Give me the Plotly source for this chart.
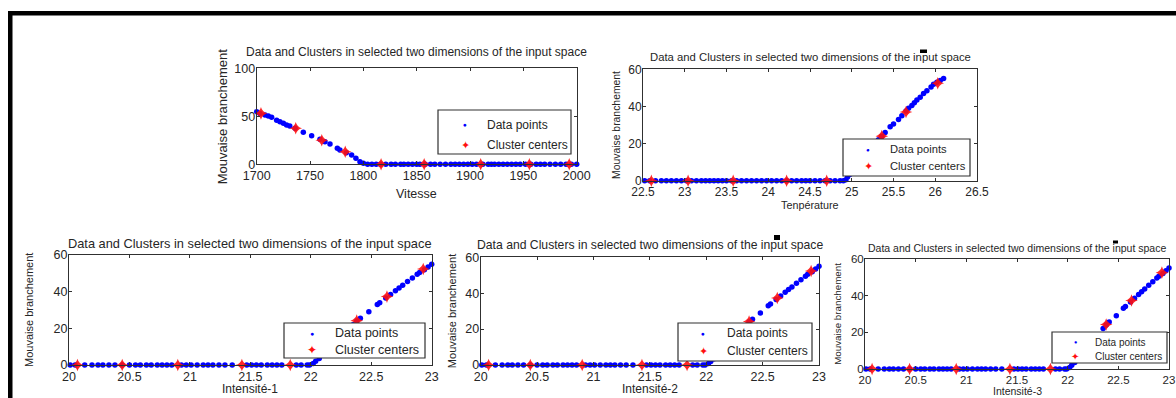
import plotly.graph_objects as go

# ---------------- data ----------------
# Subplot 1 : Vitesse vs Mouvaise branchement
vitesse = [1700, 1703, 1707.8, 1710.9, 1714, 1718.7, 1721.8, 1725, 1728, 1731, 1736,
           1743.7, 1751.5, 1759.3, 1764, 1768.7, 1775.6, 1778, 1784, 1789, 1793, 1796.8, 1800,
           1804, 1808, 1812, 1816, 1821, 1826, 1830, 1835, 1838, 1842, 1846, 1850, 1853,
           1858, 1863, 1867, 1872, 1877, 1882, 1886, 1890, 1894, 1898, 1902, 1906, 1912,
           1917, 1920, 1923, 1927, 1931, 1935, 1939, 1943, 1947, 1952, 1957, 1962, 1966,
           1970, 1975, 1980, 1985, 1990, 1995, 2000]
mb_vitesse = [54.8, 53, 51.3, 50.3, 49, 46, 44.4, 42.7, 41, 39.9, 37.5,
              33.3, 29.8, 26, 23.5, 21.1, 16.6, 14.9, 12.1, 9.7, 6.2, 2.7, 1] + [0] * 46
vitesse_centers = [1704, 1736.6, 1761, 1783, 1816.6, 1857, 1910, 1955.6, 1993]
mb_vitesse_centers = [53, 37.5, 25, 13, 0, 0, 0, 0, 0]

# Subplot 2 : Température vs Mouvaise branchement
temperature = [22.52, 22.58, 22.65, 22.72, 22.78, 22.84, 22.9, 22.96, 23.02, 23.08, 23.14,
               23.2, 23.25, 23.3, 23.35, 23.4, 23.45, 23.5, 23.56, 23.62, 23.68, 23.74,
               23.8, 23.86, 23.92, 23.98, 24.04, 24.1, 24.16, 24.22, 24.28, 24.34, 24.4,
               24.45, 24.5, 24.56, 24.62, 24.68, 24.74, 24.8, 24.86, 24.9,
               24.93, 24.95, 24.98, 25.06, 25.12, 25.18, 25.24,
               25.32, 25.36, 25.4, 25.46, 25.5, 25.56, 25.6, 25.65, 25.68, 25.72, 25.75,
               25.78, 25.82, 25.86, 25.9, 25.95, 25.98, 26.02, 26.06, 26.1]
mb_temperature = [0] * 42 + [0.5, 2, 3.5, 7, 10, 12.5, 15.5,
                             22, 24, 26, 29, 30.5, 33, 35, 37.5, 39, 40.5, 42,
                             43.5, 45, 47, 48.5, 50.5, 52, 53, 54, 55]
temperature_centers = [22.6, 23.04, 23.58, 24.22, 24.7, 25.36, 25.65, 26.03]
mb_temperature_centers = [0, 0, 0, 0, 0, 24, 37, 52.5]

# Subplots 3-5 : Intensité-1/2/3 vs Mouvaise branchement
intensite = [20.01, 20.05, 20.13, 20.19, 20.24, 20.28, 20.33, 20.38, 20.44, 20.5, 20.55,
             20.59, 20.64, 20.68, 20.73, 20.77, 20.81, 20.85, 20.93, 20.97, 21.01, 21.06,
             21.11, 21.15, 21.19, 21.24, 21.29, 21.35, 21.47, 21.51, 21.55, 21.59, 21.64,
             21.68, 21.72, 21.76, 21.88, 21.92, 21.97, 21.99,
             22.02, 22.04, 22.07, 22.12, 22.18, 22.24, 22.3,
             22.35, 22.38, 22.41, 22.48, 22.55, 22.57, 22.62, 22.66, 22.7, 22.73, 22.76,
             22.8, 22.84, 22.88, 22.9, 22.94, 22.97, 23.0]
mb_intensite = [0] * 40 + [0.8, 2, 3.5, 6.5, 10, 13, 16.5,
                           22, 24, 25.5, 29, 33, 34, 36.5, 38.5, 40.5, 42, 43.5,
                           45.5, 47.5, 49.5, 50.5, 52, 53.5, 55]
intensite_centers = [20.07, 20.44, 20.9, 21.43, 21.83, 22.38, 22.63, 22.93]
mb_intensite_centers = [0, 0, 0, 0, 0, 24.2, 37.3, 52.4]

y_label = "Mouvaise branchement"
title_text = "Data and Clusters in selected two dimensions of the input space"
x_labels = ["Vitesse", "Tenpérature", "Intensité-1", "Intensité-2", "Intensité-3"]
legend_labels = ["Data points", "Cluster centers"]

# ---------------- layout geometry (pixels) ----------------
W, H = 1176, 398
FONT = "Liberation Sans, Arial, sans-serif"
TXT = "#262626"
AX = "#303030"

panels = [
    dict(x=vitesse, y=mb_vitesse, cx=vitesse_centers, cy=mb_vitesse_centers,
         px=(256.7, 576.7), py=(68.3, 164.3), xr=[1700, 2000], xd=50, yr=[0, 100], yd=50,
         tf=12.5, ttf=12, xlf=12.5, ylf=13, ty=52, xly=194, ylx=222,
         lg=dict(box=(438, 110, 571, 154), mx=465, tx=485, rows=(125, 145), f=12)),
    dict(x=temperature, y=mb_temperature, cx=temperature_centers, cy=mb_temperature_centers,
         px=(643, 977), py=(69.3, 180.7), xr=[22.5, 26.5], xd=0.5, yr=[0, 60], yd=20,
         tf=12, ttf=11.3, xlf=10.8, ylf=10.4, ty=57, xly=205, ylx=617,
         lg=dict(box=(843, 139, 970, 176), mx=868, tx=888, rows=(149, 166), f=11.2)),
    dict(x=intensite, y=mb_intensite, cx=intensite_centers, cy=mb_intensite_centers,
         px=(69, 431.7), py=(255, 365), xr=[20, 23], xd=0.5, yr=[0, 60], yd=20,
         tf=12.5, ttf=12.8, xlf=12, ylf=11, ty=243, xly=389, ylx=29,
         lg=dict(box=(284, 323, 425, 358), mx=312, tx=333, rows=(333, 350), f=12.5)),
    dict(x=intensite, y=mb_intensite, cx=intensite_centers, cy=mb_intensite_centers,
         px=(480.7, 819), py=(257.3, 365), xr=[20, 23], xd=0.5, yr=[0, 60], yd=20,
         tf=12.5, ttf=12.2, xlf=12, ylf=11, ty=245, xly=389, ylx=452,
         lg=dict(box=(678, 323, 812, 361), mx=703, tx=725, rows=(333, 351), f=12)),
    dict(x=intensite, y=mb_intensite, cx=intensite_centers, cy=mb_intensite_centers,
         px=(865, 1169), py=(258.7, 369), xr=[20, 23], xd=0.5, yr=[0, 60], yd=20,
         tf=11.5, ttf=10.5, xlf=10.5, ylf=9.8, ty=248, xly=391, ylx=838,
         lg=dict(box=(1052, 332, 1167, 363), mx=1075, tx=1093, rows=(342, 356), f=10)),
]

fig = go.Figure()
annotations = []
shapes = []
layout = dict(width=W, height=H, margin=dict(l=0, r=0, t=0, b=0, pad=0),
              paper_bgcolor="white", plot_bgcolor="white", showlegend=False,
              font=dict(family=FONT, color=TXT))


def rect(px0, py0, px1, py1, fill="black", line=None):
    return dict(type="rect", xref="paper", yref="paper", x0=px0 / W, x1=px1 / W,
                y0=1 - py1 / H, y1=1 - py0 / H, fillcolor=fill,
                line=line if line else dict(width=0), layer="above")


def ann(text, px, py, size, xanchor="center", color=TXT, angle=0):
    return dict(text=text, x=px / W, y=1 - py / H, xref="paper", yref="paper",
                showarrow=False, xanchor=xanchor, yanchor="middle", textangle=angle,
                font=dict(size=size, color=color, family=FONT))


for i, p in enumerate(panels):
    n = "" if i == 0 else str(i + 1)
    fig.add_trace(go.Scatter(x=p["x"], y=p["y"], mode="markers", name=legend_labels[0],
                             marker=dict(color="#0000ff", size=5.5, symbol="circle"),
                             xaxis="x" + n, yaxis="y" + n, cliponaxis=False))
    fig.add_trace(go.Scatter(x=p["cx"], y=p["cy"], mode="markers", name=legend_labels[1],
                             marker=dict(color="#ff1010", size=9, symbol="star-diamond",
                                         line=dict(width=0), opacity=0.9),
                             xaxis="x" + n, yaxis="y" + n, cliponaxis=False))
    x0, x1 = p["px"]
    y0, y1 = p["py"]
    common = dict(showline=True, linecolor=AX, linewidth=1, mirror="ticks",
                  ticks="inside", ticklen=3, tickcolor=AX, showgrid=False,
                  zeroline=False, automargin=False,
                  tickfont=dict(size=p["tf"], color=TXT, family=FONT))
    layout["xaxis" + n] = dict(domain=[x0 / W, x1 / W], range=p["xr"], dtick=p["xd"],
                               tick0=p["xr"][0], anchor="y" + n, ticklabelstandoff=0,
                               **common)
    layout["yaxis" + n] = dict(domain=[1 - y1 / H, 1 - y0 / H], range=p["yr"], dtick=p["yd"],
                               tick0=0, anchor="x" + n, ticklabelstandoff=-2, **common)
    cx = (x0 + x1) / 2
    annotations.append(ann(title_text, cx, p["ty"], p["ttf"]))
    annotations.append(ann(x_labels[i], cx, p["xly"], p["xlf"]))
    annotations.append(ann(y_label, p["ylx"], (y0 + y1) / 2, p["ylf"], angle=-90))

    # legend box drawn like the MATLAB legend
    lg = p["lg"]
    bx0, by0, bx1, by1 = lg["box"]
    shapes.append(rect(bx0, by0, bx1, by1, fill="white", line=dict(color=AX, width=1.2)))
    annotations.append(ann("●", lg["mx"], lg["rows"][0], lg["f"] * 0.55, color="#0000ff"))
    annotations.append(ann("✦", lg["mx"], lg["rows"][1], lg["f"] * 0.95, color="#ff1010"))
    annotations.append(ann(legend_labels[0], lg["tx"], lg["rows"][0], lg["f"], xanchor="left"))
    annotations.append(ann(legend_labels[1], lg["tx"], lg["rows"][1], lg["f"], xanchor="left"))

layout["annotations"] = annotations

# frame lines and small black artefacts of the original picture
shapes += [
    rect(8, 11, W, 15.5),
    rect(8, 11, 12.5, H),
    rect(920, 49.5, 927, 53),
    rect(774, 235, 780, 240),
    rect(1113, 240.5, 1118, 243.5),
]
layout["shapes"] = shapes

fig.update_layout(**layout)
fig.write_html("out.html")
